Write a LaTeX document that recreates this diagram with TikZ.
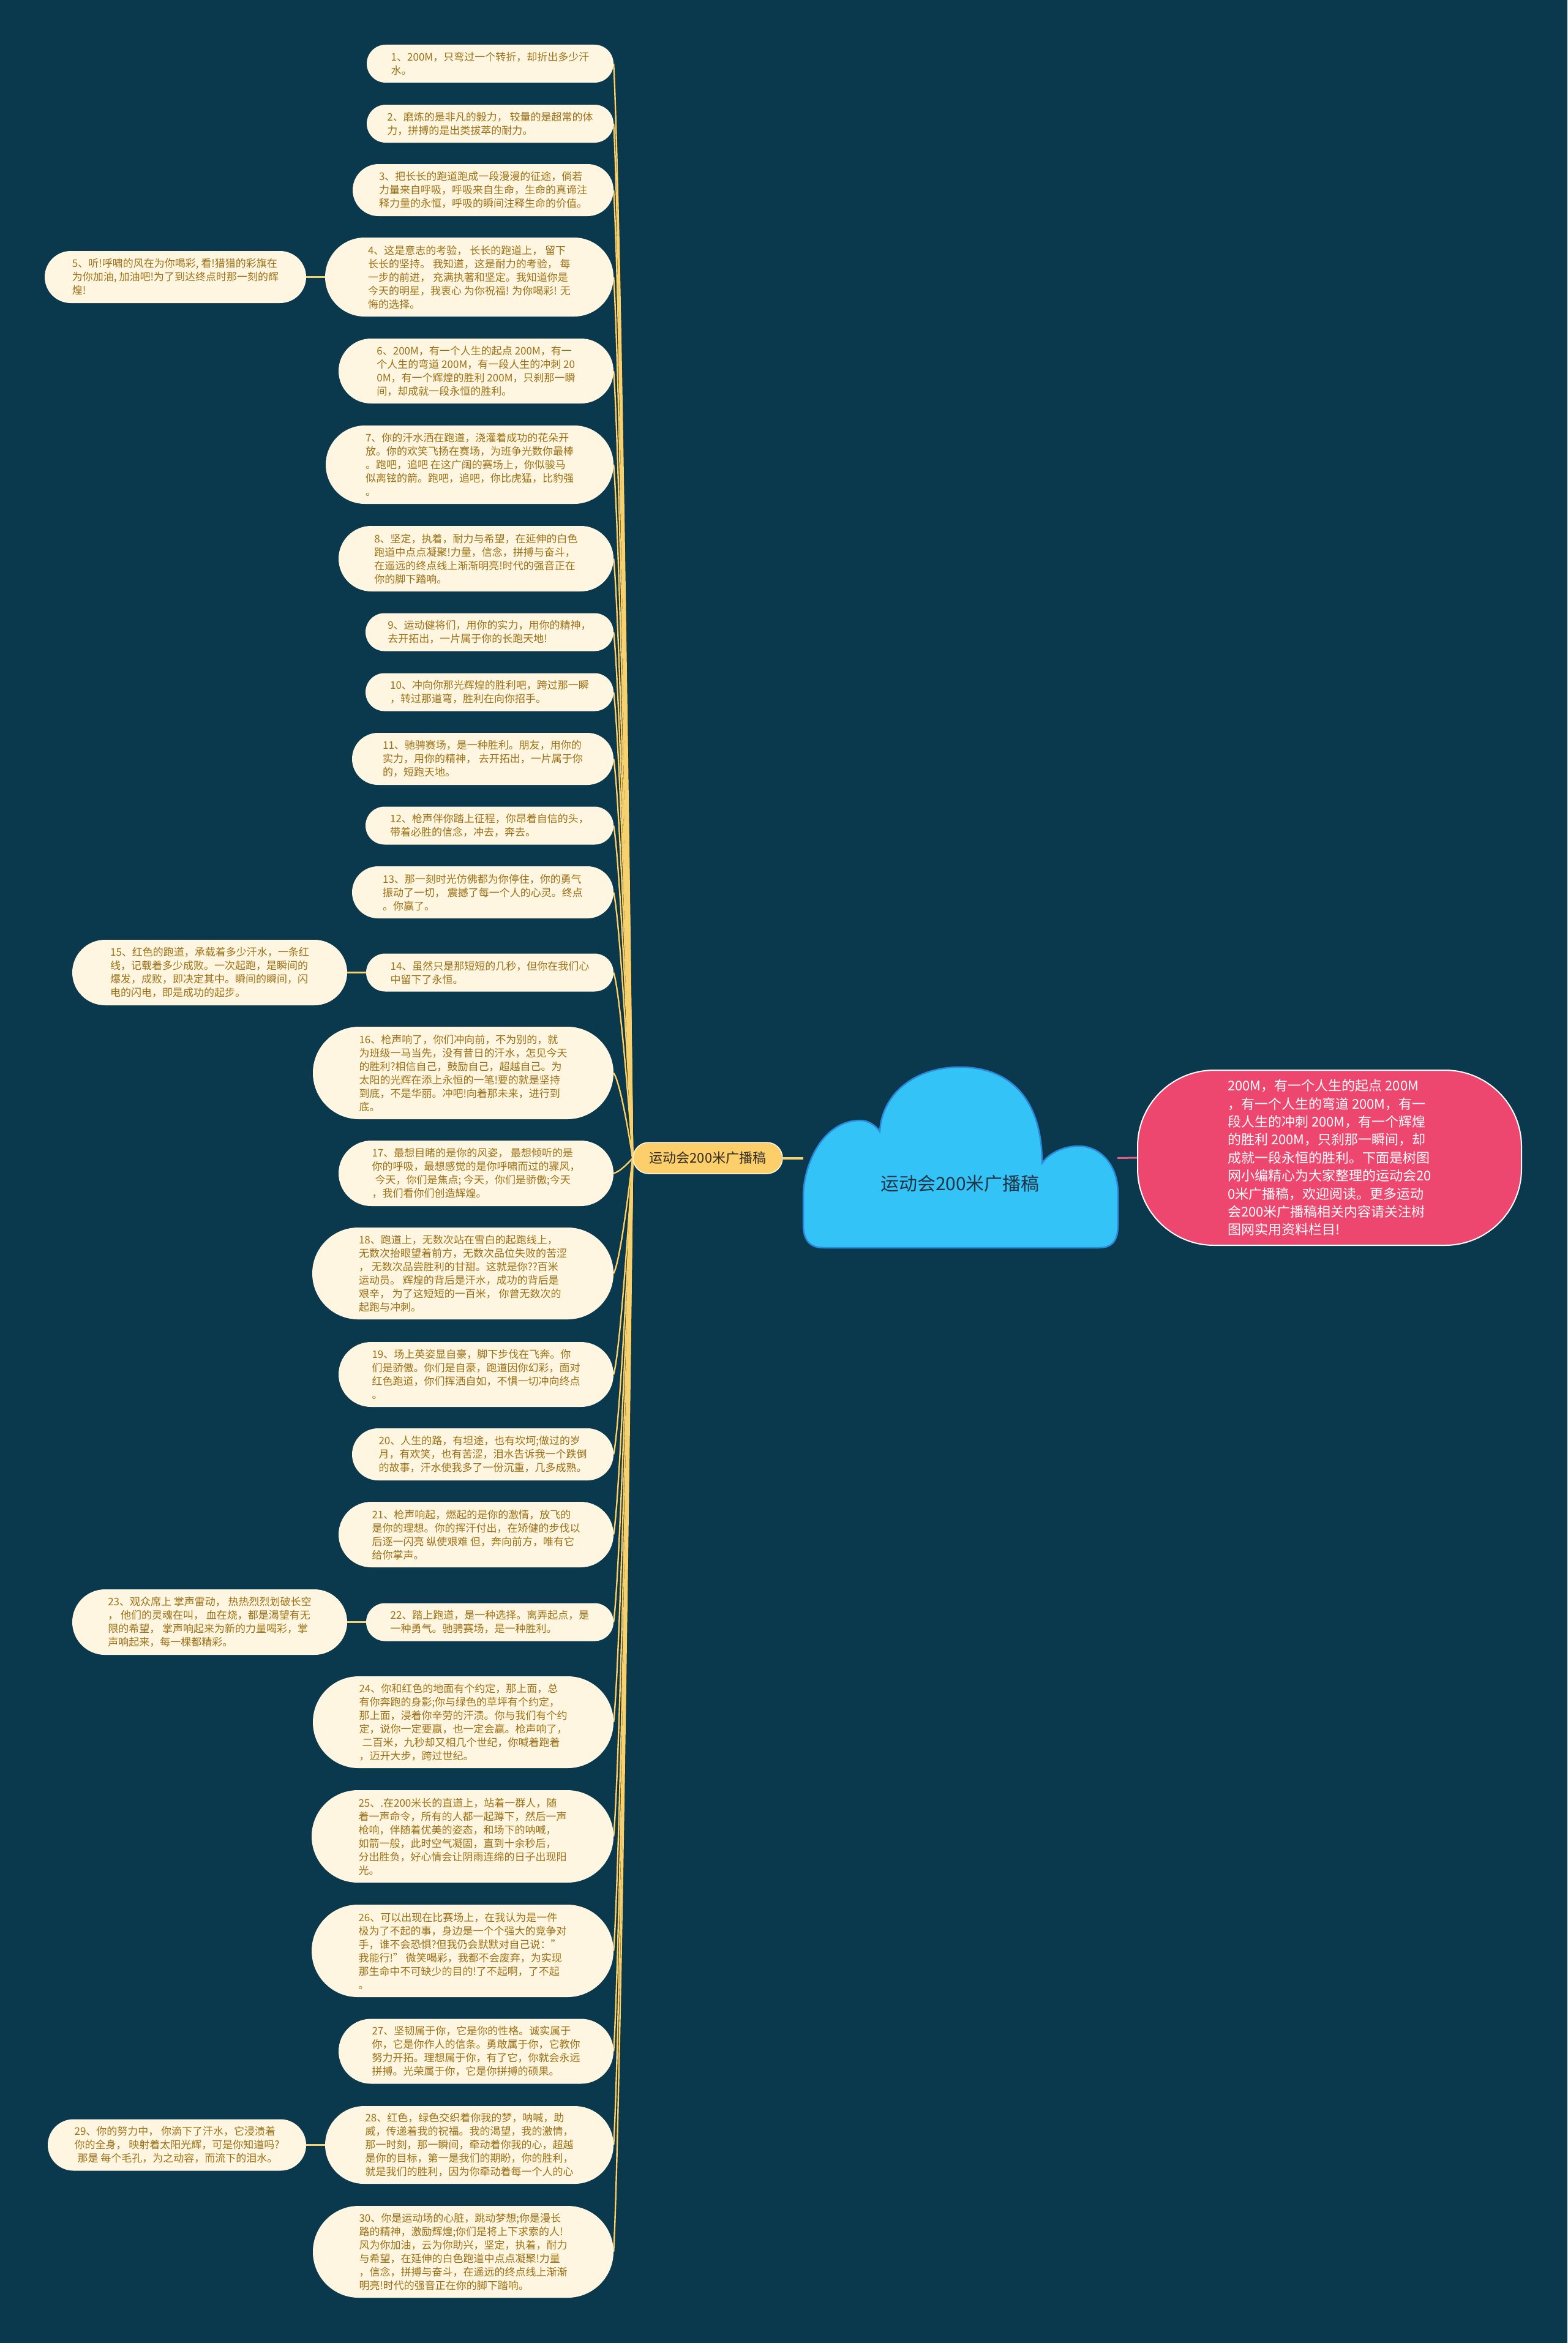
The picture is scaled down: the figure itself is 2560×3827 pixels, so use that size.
\documentclass[tikz,border=0pt]{standalone}
\usepackage{fontspec}
\setmainfont{Noto Sans CJK SC}
\usetikzlibrary{shapes.misc,calc}
\definecolor{bgc}{HTML}{0A394D}
\definecolor{leaffill}{HTML}{FEF6E1}
\definecolor{leaftext}{HTML}{9C7014}
\definecolor{connc}{HTML}{F6D16E}
\definecolor{edgedark}{HTML}{1C2B27}
\definecolor{labfill}{HTML}{FDCF6B}
\definecolor{labtext}{HTML}{2F2A22}
\definecolor{cloudfill}{HTML}{33C3F6}
\definecolor{cloudline}{HTML}{2C88DA}
\definecolor{cloudtext}{HTML}{213444}
\definecolor{pinkfill}{HTML}{EE476F}
\definecolor{pinkline}{HTML}{E15C7F}
\pgfdeclarelayer{bglayer}
\pgfdeclarelayer{edgelayer}
\pgfsetlayers{bglayer,edgelayer,main}
\tikzset{
  leaf/.style={rounded rectangle, fill=leaffill, text=leaftext, inner sep=0pt, align=left,
    font=\fontsize{17pt}{22pt}\selectfont},
  conn/.style={draw=connc, line width=2.4pt},
  connedge/.style={draw=edgedark, line width=3.6pt},
}
\begin{document}
\begin{tikzpicture}[x=1pt,y=-1pt]
\useasboundingbox (0,0) rectangle (2560,3827);
\begin{pgfonlayer}{bglayer}
\fill[bgc] (0,0) rectangle (2560,3827);
\end{pgfonlayer}

% leaves
\node[leaf, minimum width=403pt, minimum height=62pt] (n1) at (800.5,104) {1、200M，只弯过一个转折，却折出多少汗\\水。};
\node[leaf, minimum width=403pt, minimum height=62pt] (n2) at (800.5,202) {2、磨炼的是非凡的毅力， 较量的是超常的体\\力，拼搏的是出类拔萃的耐力。};
\node[leaf, minimum width=426pt, minimum height=85pt] (n3) at (789,310.5) {3、把长长的跑道跑成一段漫漫的征途，倘若\\力量来自呼吸，呼吸来自生命，生命的真谛注\\释力量的永恒，呼吸的瞬间注释生命的价值。};
\node[leaf, minimum width=471pt, minimum height=129pt] (n4) at (766.5,452.5) {4、这是意志的考验， 长长的跑道上， 留下\\长长的坚持。 我知道，这是耐力的考验， 每\\一步的前进， 充满执著和坚定。我知道你是\\今天的明星，我衷心 为你祝福! 为你喝彩! 无\\悔的选择。};
\node[leaf, minimum width=427pt, minimum height=85pt] (n5) at (286.5,452.5) {5、听!呼啸的风在为你喝彩, 看!猎猎的彩旗在\\为你加油, 加油吧!为了到达终点时那一刻的辉\\煌!};
\node[leaf, minimum width=449pt, minimum height=106pt] (n6) at (777.5,606) {6、200M，有一个人生的起点 200M，有一\\个人生的弯道 200M，有一段人生的冲刺 20\\0M，有一个辉煌的胜利 200M，只刹那一瞬\\间，却成就一段永恒的胜利。};
\node[leaf, minimum width=470pt, minimum height=128pt] (n7) at (767,759) {7、你的汗水洒在跑道，浇灌着成功的花朵开\\放。你的欢笑飞扬在赛场，为班争光数你最棒\\。跑吧，追吧 在这广阔的赛场上，你似骏马\\似离铉的箭。跑吧，追吧，你比虎猛，比豹强\\。};
\node[leaf, minimum width=449pt, minimum height=107pt] (n8) at (777.5,912.5) {8、坚定，执着，耐力与希望，在延伸的白色\\跑道中点点凝聚!力量，信念，拼搏与奋斗，\\在遥远的终点线上渐渐明亮!时代的强音正在\\你的脚下踏响。};
\node[leaf, minimum width=405pt, minimum height=62pt] (n9) at (799.5,1032.5) {9、运动健将们，用你的实力，用你的精神，\\去开拓出，一片属于你的长跑天地!};
\node[leaf, minimum width=405pt, minimum height=62pt] (n10) at (799.5,1130.5) {10、冲向你那光辉煌的胜利吧，跨过那一瞬\\，转过那道弯，胜利在向你招手。};
\node[leaf, minimum width=427pt, minimum height=85pt] (n11) at (788.5,1239.5) {11、驰骋赛场，是一种胜利。朋友，用你的\\实力，用你的精神， 去开拓出，一片属于你\\的，短跑天地。};
\node[leaf, minimum width=405pt, minimum height=62pt] (n12) at (799.5,1348.5) {12、枪声伴你踏上征程，你昂着自信的头，\\带着必胜的信念，冲去，奔去。};
\node[leaf, minimum width=427pt, minimum height=85pt] (n13) at (788.5,1457.5) {13、那一刻时光仿佛都为你停住，你的勇气\\振动了一切， 震撼了每一个人的心灵。终点\\。你赢了。};
\node[leaf, minimum width=404pt, minimum height=62pt] (n14) at (800,1588.5) {14、虽然只是那短短的几秒，但你在我们心\\中留下了永恒。};
\node[leaf, minimum width=449pt, minimum height=107pt] (n15) at (342.5,1588.5) {15、红色的跑道，承载着多少汗水，一条红\\线，记载着多少成败。一次起跑，是瞬间的\\爆发，成败，即决定其中。瞬间的瞬间，闪\\电的闪电，即是成功的起步。};
\node[leaf, minimum width=491pt, minimum height=151pt] (n16) at (756.5,1752.5) {16、枪声响了，你们冲向前，不为别的，就\\为班级一马当先，没有昔日的汗水，怎见今天\\的胜利?相信自己，鼓励自己，超越自己。为\\太阳的光辉在添上永恒的一笔!要的就是坚持\\到底，不是华丽。冲吧!向着那未来，进行到\\底。};
\node[leaf, minimum width=449pt, minimum height=107pt] (n17) at (777.5,1916.5) {17、最想目睹的是你的风姿， 最想倾听的是\\你的呼吸，最想感觉的是你呼啸而过的骤风，\\\hspace*{5pt}今天，你们是焦点; 今天，你们是骄傲;今天\\，我们看你们创造辉煌。};
\node[leaf, minimum width=492pt, minimum height=150pt] (n18) at (756,2080) {18、跑道上，无数次站在雪白的起跑线上，\\无数次抬眼望着前方，无数次品位失败的苦涩\\， 无数次品尝胜利的甘甜。这就是你??百米\\运动员。 辉煌的背后是汗水，成功的背后是\\艰辛， 为了这短短的一百米， 你曾无数次的\\起跑与冲刺。};
\node[leaf, minimum width=449pt, minimum height=106pt] (n19) at (777.5,2245) {19、场上英姿显自豪，脚下步伐在飞奔。你\\们是骄傲。你们是自豪，跑道因你幻彩，面对\\红色跑道，你们挥洒自如，不惧一切冲向终点\\。};
\node[leaf, minimum width=427pt, minimum height=85pt] (n20) at (788.5,2375.5) {20、人生的路，有坦途，也有坎坷;做过的岁\\月，有欢笑，也有苦涩，泪水告诉我一个跌倒\\的故事，汗水使我多了一份沉重，几多成熟。};
\node[leaf, minimum width=449pt, minimum height=107pt] (n21) at (777.5,2506.5) {21、枪声响起，燃起的是你的激情，放飞的\\是你的理想。你的挥汗付出，在矫健的步伐以\\后逐一闪亮 纵使艰难 但，奔向前方，唯有它\\给你掌声。};
\node[leaf, minimum width=404pt, minimum height=62pt] (n22) at (800,2649.5) {22、踏上跑道，是一种选择。离弄起点，是\\一种勇气。驰骋赛场，是一种胜利。};
\node[leaf, minimum width=449pt, minimum height=107pt] (n23) at (342.5,2649.5) {23、观众席上 掌声雷动， 热热烈烈划破长空\\， 他们的灵魂在叫， 血在烧，都是渴望有无\\限的希望， 掌声响起来为新的力量喝彩，掌\\声响起来，每一棵都精彩。};
\node[leaf, minimum width=491pt, minimum height=150pt] (n24) at (756.5,2813) {24、你和红色的地面有个约定，那上面，总\\有你奔跑的身影;你与绿色的草坪有个约定，\\那上面，浸着你辛劳的汗渍。你与我们有个约\\定，说你一定要赢，也一定会赢。枪声响了，\\\hspace*{5pt}二百米，九秒却又相几个世纪，你喊着跑着\\，迈开大步，跨过世纪。};
\node[leaf, minimum width=493pt, minimum height=151pt] (n25) at (755.5,2999.5) {25、.在200米长的直道上，站着一群人，随\\着一声命令，所有的人都一起蹲下，然后一声\\枪响，伴随着优美的姿态，和场下的呐喊，\\如箭一般，此时空气凝固，直到十余秒后，\\分出胜负，好心情会让阴雨连绵的日子出现阳\\光。};
\node[leaf, minimum width=493pt, minimum height=151pt] (n26) at (755.5,3186.5) {26、可以出现在比赛场上，在我认为是一件\\极为了不起的事，身边是一个个强大的竞争对\\手，谁不会恐惧?但我仍会默默对自己说："\\我能行!" 微笑喝彩，我都不会废弃，为实现\\那生命中不可缺少的目的!了不起啊，了不起\\。};
\node[leaf, minimum width=449pt, minimum height=106pt] (n27) at (777.5,3350.5) {27、坚韧属于你，它是你的性格。诚实属于\\你，它是你作人的信条。勇敢属于你，它教你\\努力开拓。理想属于你，有了它，你就会永远\\拼搏。光荣属于你，它是你拼搏的硕果。};
\node[leaf, minimum width=471pt, minimum height=127pt] (n28) at (766.5,3503.5) {28、红色，绿色交织着你我的梦，呐喊，助\\威，传递着我的祝福。我的渴望，我的激情，\\那一时刻，那一瞬间，牵动着你我的心，超越\\是你的目标，第一是我们的期盼，你的胜利，\\就是我们的胜利，因为你牵动着每一个人的心};
\node[leaf, minimum width=422pt, minimum height=84pt] (n29) at (289,3503.5) {29、你的努力中， 你滴下了汗水，它浸渍着\\你的全身， 映射着太阳光辉，可是你知道吗?\\\hspace*{5pt}那是 每个毛孔，为之动容，而流下的泪水。};
\node[leaf, minimum width=491pt, minimum height=150pt] (n30) at (756.5,3678) {30、你是运动场的心脏，跳动梦想;你是漫长\\路的精神，激励辉煌;你们是将上下求索的人!\\风为你加油，云为你助兴，坚定，执着，耐力\\与希望，在延伸的白色跑道中点点凝聚!力量\\，信念，拼搏与奋斗，在遥远的终点线上渐渐\\明亮!时代的强音正在你的脚下踏响。};

% main topic label
\node[rounded rectangle, fill=labfill, draw=leaffill, line width=1.5pt, text=labtext, inner sep=0pt,
  minimum width=244pt, minimum height=51pt, font=\fontsize{22pt}{26pt}\selectfont] (lab) at (1156,1891.5) {运动会200米广播稿};

% cloud
\path[fill=cloudfill, draw=cloudline, line width=2.5pt]
  (1345,2038) -- (1795,2038)
  .. controls (1818,2038) and (1826,2025) .. (1826,2000)
  -- (1826,1950)
  .. controls (1826,1900) and (1795,1872) .. (1762,1872)
  .. controls (1735,1872) and (1712,1885) .. (1702,1900)
  .. controls (1702,1790) and (1645,1743) .. (1568,1743)
  .. controls (1490,1743) and (1440,1790) .. (1437,1848)
  .. controls (1430,1838) and (1418,1830) .. (1405,1830)
  .. controls (1345,1830) and (1312,1900) .. (1312,1955)
  -- (1312,2000)
  .. controls (1312,2025) and (1322,2038) .. (1345,2038) -- cycle;
\node[text=cloudtext, font=\fontsize{30pt}{36pt}\selectfont] (cloud) at (1568,1933) {运动会200米广播稿};
\coordinate (cloudW) at (1312,1891.5);
\coordinate (cloudE) at (1825,1891.5);

% pink summary
\node[rectangle, rounded corners=125pt, fill=pinkfill, draw=white, line width=2pt, text=white,
  minimum width=627pt, minimum height=286pt, inner sep=0pt, align=left,
  font=\fontsize{22pt}{29.4pt}\selectfont] (pink) at (2171.5,1891) {200M，有一个人生的起点 200M\\，有一个人生的弯道 200M，有一\\段人生的冲刺 200M，有一个辉煌\\的胜利 200M，只刹那一瞬间，却\\成就一段永恒的胜利。下面是树图\\网小编精心为大家整理的运动会20\\0米广播稿，欢迎阅读。更多运动\\会200米广播稿相关内容请关注树\\图网实用资料栏目!};

% connectors: dark edges first, then yellow strokes
\begin{pgfonlayer}{edgelayer}
\foreach \sty in {connedge,conn} {
  \foreach \nd in {n1,n2,n3,n4,n6,n7,n8,n9,n10,n11,n12,n13,n14,n16,n17,n18,n19,n20,n21,n22,n24,n25,n26,n27,n28,n30} {
    \draw[\sty] let \p1=(lab.west), \p2=(\nd.east) in
      (\p1) .. controls ({0.67*\x1+0.33*\x2+3.3pt}, {0.67*\y1+0.33*\y2}) and ({\x2+10pt}, {0.9*\y2+0.1*\y1}) .. (\p2);
  }
  \draw[\sty] (n4.west) -- (n5.east);
  \draw[\sty] (n14.west) -- (n15.east);
  \draw[\sty] (n22.west) -- (n23.east);
  \draw[\sty] (n28.west) -- (n29.east);
}
\draw[conn, line width=4pt] (lab.east) -- (cloudW);
\draw[draw=pinkline, line width=3pt] (cloudE) -- (pink.west);
\end{pgfonlayer}
\end{tikzpicture}
\end{document}
